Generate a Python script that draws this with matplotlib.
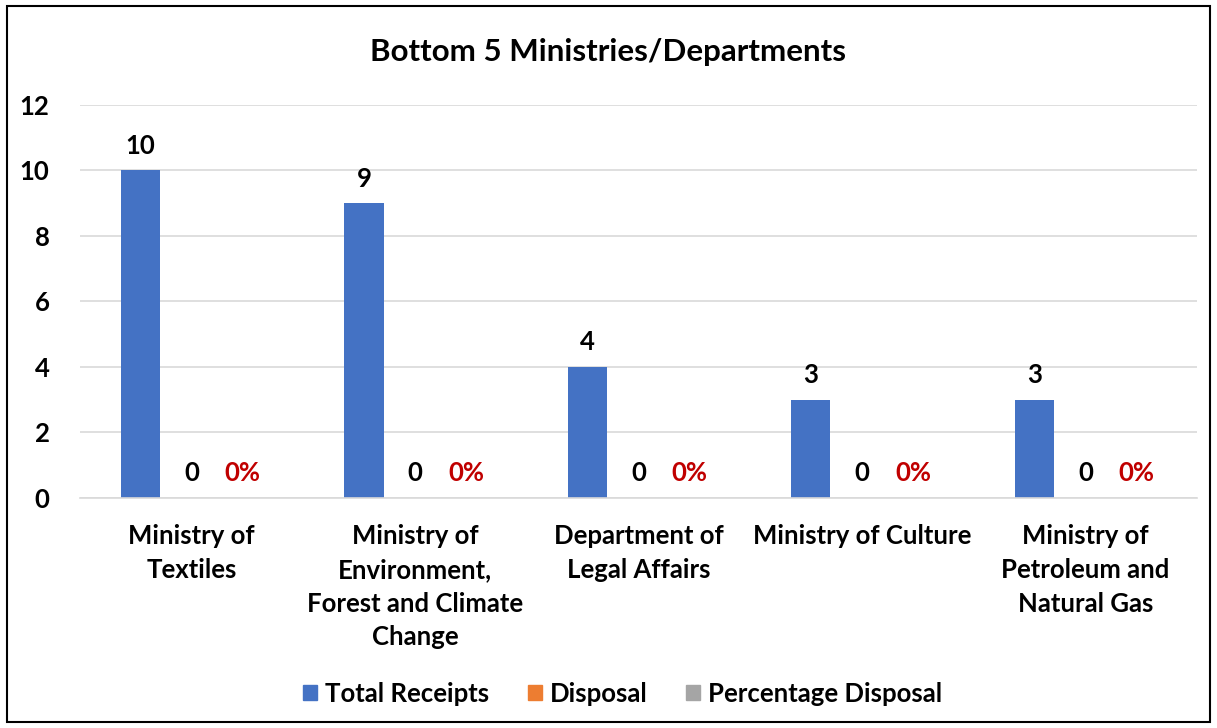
import numpy as np
import matplotlib.pyplot as plt
from matplotlib.patches import Rectangle, Patch

plt.rcParams['font.family'] = ['Lato', 'DejaVu Sans']
plt.rcParams['font.weight'] = 'bold'

categories = ["Ministry of\nTextiles",
              "Ministry of\nEnvironment,\nForest and Climate\nChange",
              "Department of\nLegal Affairs",
              "Ministry of Culture",
              "Ministry of\nPetroleum and\nNatural Gas"]
total_receipts = [10, 9, 4, 3, 3]
disposal = [0, 0, 0, 0, 0]
pct_disposal = [0, 0, 0, 0, 0]

blue = '#4472C4'
orange = '#ED7D31'
grey = '#A5A5A5'

fig = plt.figure(figsize=(12.17, 7.28), dpi=100)
ax = fig.add_axes([0.0657, 0.316, 0.918, 0.540])

x = np.arange(len(categories))
step = 0.229
width = 0.175
ax.bar(x - step, total_receipts, width, color=blue)
ax.bar(x, disposal, width, color=orange)
ax.bar(x + step, pct_disposal, width, color=grey)

lbl_size = 18.5
for xi, v in zip(x, total_receipts):
    ax.annotate(str(v), (xi - step, v), xytext=(0, 9), textcoords='offset points',
                ha='center', va='bottom', fontsize=lbl_size, fontweight='bold')
for xi, v in zip(x, disposal):
    ax.annotate(str(v), (xi, v), xytext=(0, 9), textcoords='offset points',
                ha='center', va='bottom', fontsize=lbl_size, fontweight='bold')
for xi, v in zip(x, pct_disposal):
    ax.annotate(f"{v:.0%}", (xi + step, v), xytext=(0, 9), textcoords='offset points',
                ha='center', va='bottom', fontsize=lbl_size, fontweight='bold', color='#C00000')

ax.set_xlim(-0.5, len(categories) - 0.5)
ax.set_ylim(0, 12)
ax.set_yticks(range(0, 13, 2))
ax.grid(axis='y', color='#D9D9D9', linewidth=1.2)
ax.set_axisbelow(True)
for s in ['top', 'right', 'left']:
    ax.spines[s].set_visible(False)
ax.spines['bottom'].set_color('#D9D9D9')
ax.spines['bottom'].set_linewidth(1.2)
ax.tick_params(axis='both', length=0, labelsize=lbl_size)
ax.tick_params(axis='y', pad=22)
ax.set_xticks(x)
ax.set_xticklabels(categories, linespacing=1.48, va='top')
ax.tick_params(axis='x', pad=19)
for lbl in ax.get_xticklabels() + ax.get_yticklabels():
    lbl.set_fontweight('bold')

fig.text(0.5, 0.928, "Bottom 5 Ministries/Departments", ha='center', va='center',
         fontsize=22.5, fontweight='bold')

handles = [Patch(color=blue, label='Total Receipts'),
           Patch(color=orange, label='Disposal'),
           Patch(color=grey, label='Percentage Disposal')]
fig.legend(handles=handles, loc='center', bbox_to_anchor=(0.5115, 0.047), ncol=3,
           frameon=False, handlelength=0.55, handleheight=0.55,
           handletextpad=0.3, columnspacing=1.5, prop={'weight': 'bold', 'size': lbl_size})

fig.patches.append(Rectangle((0.006, 0.008), 0.988, 0.984, transform=fig.transFigure,
                             fill=False, edgecolor='black', linewidth=1.5))

fig.savefig('out.png', dpi=100)
